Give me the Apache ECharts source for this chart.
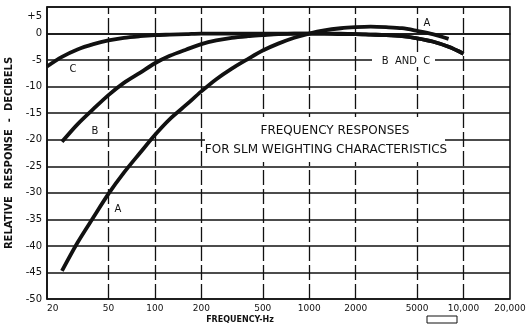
<!DOCTYPE html>
<html>
<head>
<meta charset="utf-8">
<script src="https://cdn.jsdelivr.net/npm/echarts@6/dist/echarts.min.js"></script>
<style>
  html, body { margin: 0; padding: 0; background: #fff; }
  #chart { width: 527px; height: 327px; }
</style>
</head>
<body>
<div id="chart"></div>
<script>
// Sound level meter weighting curves (relative response in dB vs frequency in Hz)
const freqA = [25, 31.5, 40, 50, 63, 80, 100, 125, 160, 200, 250, 315, 400, 500, 630, 800,
               1000, 1250, 1600, 2000, 2500, 3150, 4000, 5000, 6300, 8000];
const respA = [-44.7, -39.4, -34.6, -30.2, -26.2, -22.5, -19.1, -16.1, -13.4, -10.9, -8.6, -6.6,
               -4.8, -3.2, -1.9, -0.8, 0, 0.6, 1.0, 1.2, 1.3, 1.2, 1.0, 0.5, -0.1, -1.0];

const freqB = [25, 31.5, 40, 50, 63, 80, 100, 125, 160, 200, 250, 315, 400, 500, 630, 800,
               1000, 1250, 1600, 2000, 2500, 3150, 4000, 5000, 6300, 8000, 10000];
const respB = [-20.4, -17.1, -14.2, -11.6, -9.3, -7.4, -5.6, -4.2, -3.0, -2.0, -1.3, -0.8,
               -0.5, -0.3, -0.1, 0, 0, 0, 0, -0.1, -0.2, -0.3, -0.5, -0.9, -1.5, -2.5, -3.8];

const freqC = [20, 25, 31.5, 40, 50, 63, 80, 100, 125, 160, 200, 250, 315, 400, 500, 630, 800,
               1000, 1250, 1600, 2000, 2500, 3150, 4000, 5000, 6300, 8000, 10000];
const respC = [-6.2, -4.4, -3.0, -2.0, -1.3, -0.8, -0.5, -0.3, -0.2, -0.1, 0, 0, 0, 0, 0, 0, 0,
               0, 0, -0.1, -0.1, -0.2, -0.3, -0.5, -0.9, -1.5, -2.5, -3.8];

// Frequency axis labels and dashed grid positions
const xTickFreqs  = [20, 50, 100, 200, 500, 1000, 2000, 5000, 10000, 20000];
const xTickLabels = ['20', '50', '100', '200', '500', '1000', '2000', '5000', '10,000', '20,000'];
const xGridFreqs  = [50, 100, 200, 500, 1000, 2000, 5000, 10000];

// Response axis
const yMin = -50, yMax = 5, yStep = 5;

const INK = '#111';
const FONT = '"DejaVu Sans", sans-serif';

const lg = f => Math.log10(f);
const toPoints = (fs, vs) => fs.map((f, i) => [lg(f), vs[i]]);

const curveStyle = { color: INK, width: 3.8 };

const chart = echarts.init(document.getElementById('chart'), null, { renderer: 'canvas' });

chart.setOption({
  backgroundColor: '#fff',
  animation: false,
  grid: {
    left: 47, right: 17, top: 7, bottom: 28,
    outerBoundsMode: 'none',
    show: true, borderColor: INK, borderWidth: 1.6, backgroundColor: 'transparent'
  },
  xAxis: {
    type: 'value',
    min: lg(20), max: lg(20000),
    splitLine: { show: false },
    axisTick: { show: false },
    axisLine: { lineStyle: { color: INK, width: 1.6 } },
    axisLabel: {
      customValues: xTickFreqs.map(lg),
      alignMinLabel: 'left',
      color: INK, fontFamily: FONT, fontSize: 9, margin: 5,
      formatter: v => {
        const i = xTickFreqs.findIndex(f => Math.abs(lg(f) - v) < 1e-6);
        return i >= 0 ? xTickLabels[i] : '';
      }
    }
  },
  yAxis: {
    type: 'value',
    min: yMin, max: yMax, interval: yStep,
    name: 'RELATIVE  RESPONSE  -  DECIBELS',
    nameLocation: 'middle', nameGap: 33, nameRotate: 90,
    nameTextStyle: { color: INK, fontFamily: FONT, fontSize: 10, fontWeight: 'bold' },
    axisLine: { show: true, lineStyle: { color: INK, width: 1.6 } },
    axisTick: { show: false },
    splitLine: { show: true, lineStyle: { color: INK, width: 1.7 } },
    axisLabel: {
      color: INK, fontFamily: FONT, fontSize: 10, margin: 5,
      formatter: v => v > 0 ? '{top|+' + v + '}' : (v < 0 ? '-' + Math.abs(v) : '0'),
      rich: { top: { fontFamily: FONT, fontSize: 10, color: INK, padding: [18, 0, 0, 0] } }
    }
  },
  series: [
    {
      name: 'A', type: 'line', data: toPoints(freqA, respA),
      smooth: 0.3, symbol: 'none', lineStyle: curveStyle, silent: true,
      markLine: {
        silent: true, symbol: 'none', label: { show: false },
        lineStyle: { color: INK, width: 1.3, type: [15, 4] },
        data: xGridFreqs.map(f => ({ xAxis: lg(f) }))
      }
    },
    {
      name: 'B', type: 'line', data: toPoints(freqB, respB),
      smooth: 0.3, symbol: 'none', lineStyle: curveStyle, silent: true
    },
    {
      name: 'C', type: 'line', data: toPoints(freqC, respC),
      smooth: 0.3, symbol: 'none', lineStyle: curveStyle, silent: true
    }
  ],
  graphic: [
    // title panel
    { type: 'rect', z: 100, shape: { x: 205, y: 117, width: 240, height: 45 }, style: { fill: '#fff' } },
    { type: 'text', z: 101, x: 335, y: 131, style: { text: 'FREQUENCY RESPONSES', font: '12px ' + FONT, fill: INK, align: 'center', verticalAlign: 'middle' } },
    { type: 'text', z: 101, x: 326, y: 150, style: { text: 'FOR SLM WEIGHTING CHARACTERISTICS', font: '12px ' + FONT, fill: INK, align: 'center', verticalAlign: 'middle' } },
    // curve labels
    { type: 'rect', z: 100, shape: { x: 372, y: 55, width: 63, height: 12 }, style: { fill: '#fff' } },
    { type: 'text', z: 101, x: 406, y: 61, style: { text: 'B  AND  C', font: '10px ' + FONT, fill: INK, align: 'center', verticalAlign: 'middle' } },
    { type: 'text', z: 101, x: 427, y: 23, style: { text: 'A', font: '10px ' + FONT, fill: INK, align: 'center', verticalAlign: 'middle' } },
    { type: 'text', z: 101, x: 73, y: 69, style: { text: 'C', font: '10px ' + FONT, fill: INK, align: 'center', verticalAlign: 'middle' } },
    { type: 'text', z: 101, x: 95, y: 131, style: { text: 'B', font: '10px ' + FONT, fill: INK, align: 'center', verticalAlign: 'middle' } },
    { type: 'text', z: 101, x: 118, y: 209, style: { text: 'A', font: '10px ' + FONT, fill: INK, align: 'center', verticalAlign: 'middle' } },
    // frequency axis title
    { type: 'text', z: 101, x: 240, y: 320, style: { text: 'FREQUENCY-Hz', font: 'bold 8px ' + FONT, fill: INK, align: 'center', verticalAlign: 'middle' } },
    // drawing reference stamp
    { type: 'rect', z: 101, shape: { x: 427, y: 316, width: 30, height: 7 }, style: { fill: '#fff', stroke: INK, lineWidth: 1 } }
  ]
});
</script>
</body>
</html>
